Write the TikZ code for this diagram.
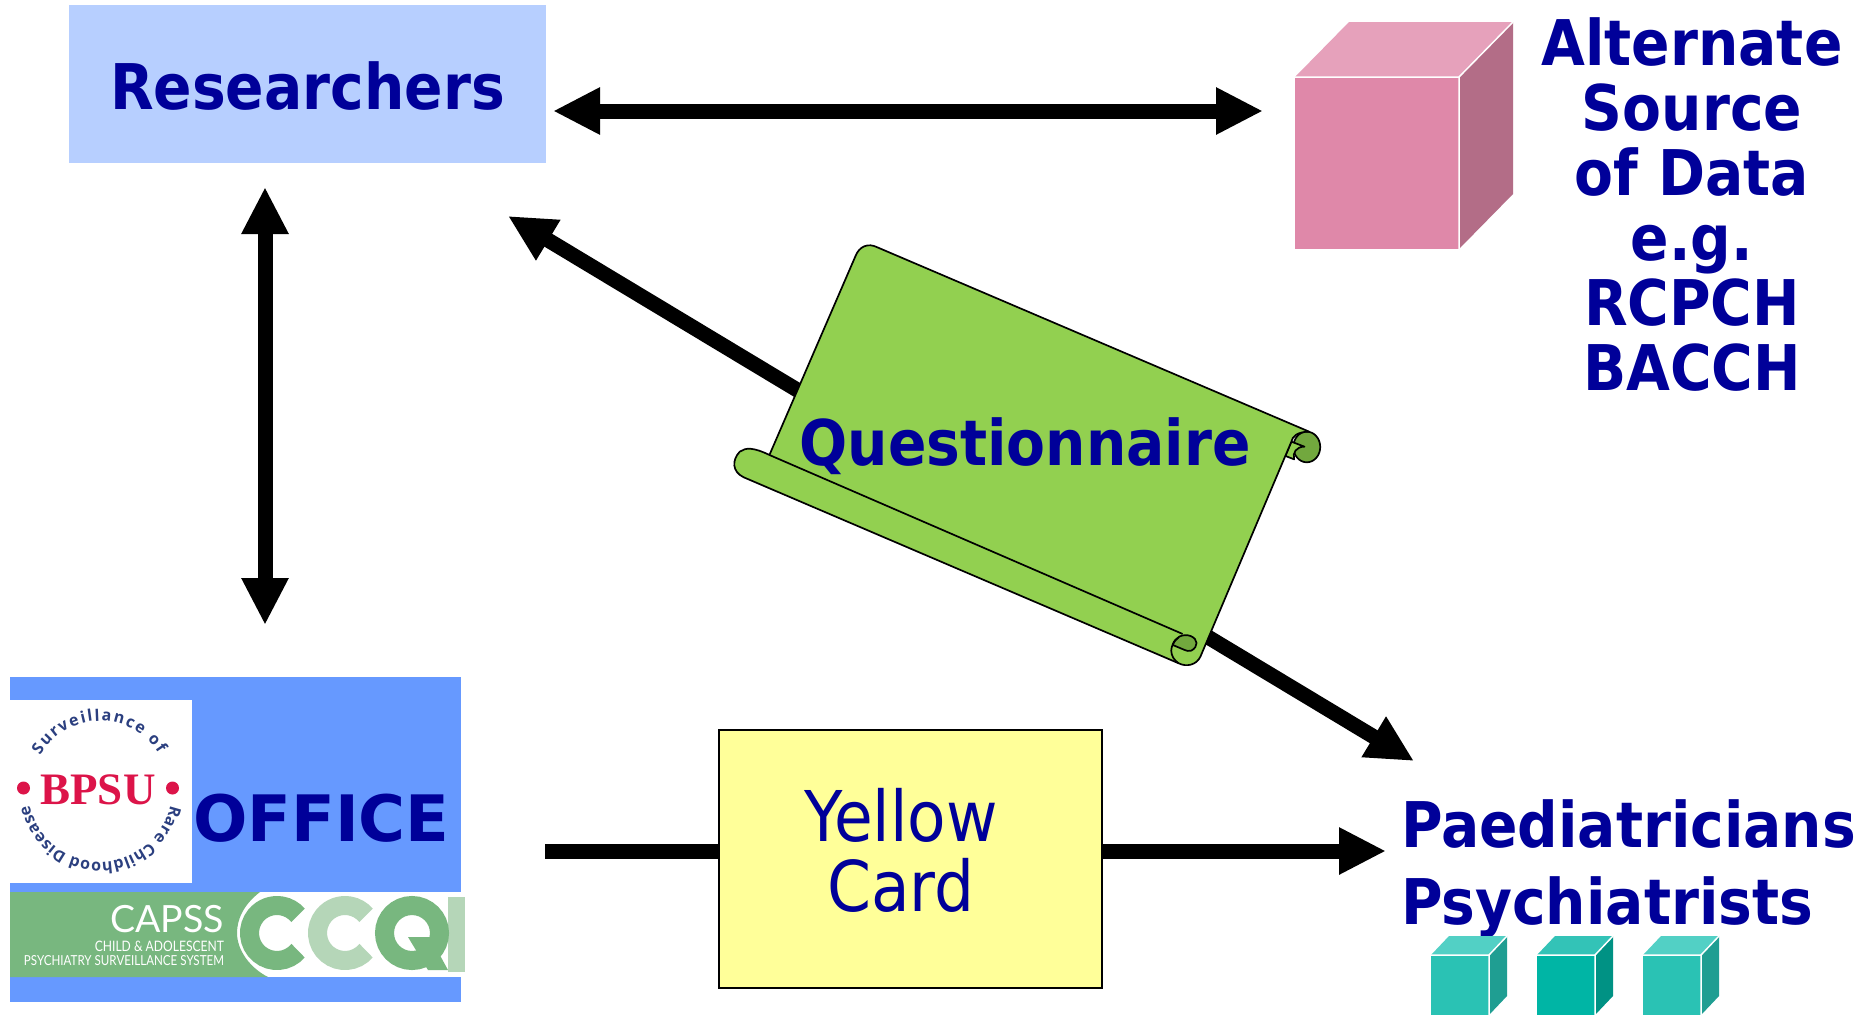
\documentclass[tikz,border=0pt]{standalone}
\usepackage{fontspec}
\usetikzlibrary{arrows.meta,decorations.text}
\setmainfont{DejaVu Sans}
\newfontfamily\tah{DejaVu Sans}[FakeStretch=0.9]
\newfontfamily\officefont{DejaVu Sans}
\newfontfamily\bpsufont{Liberation Serif}
\newfontfamily\ringfont{Open Sans}
\newfontfamily\capssfont{Lato}
\newfontfamily\capssnarrow{Lato}[FakeStretch=0.84]
\definecolor{navy}{HTML}{000099}
\definecolor{resblue}{HTML}{B7CFFF}
\definecolor{offblue}{HTML}{6699FF}
\definecolor{scrollg}{HTML}{92D050}
\definecolor{scrolld}{HTML}{72A83E}
\definecolor{capsg}{HTML}{78B77F}
\definecolor{capsl}{HTML}{B5D6B8}
\definecolor{cardy}{HTML}{FFFF99}
\definecolor{ringblue}{HTML}{2B3F7F}
\definecolor{bpsured}{HTML}{DC1449}
\definecolor{pinkf}{HTML}{DF88A9}
\definecolor{pinkt}{HTML}{E6A1BB}
\definecolor{pinkr}{HTML}{B36D87}
\definecolor{tealaf}{HTML}{2AC2B4}
\definecolor{tealat}{HTML}{52D0C5}
\definecolor{tealar}{HTML}{1F9E92}
\definecolor{tealbf}{HTML}{00B5A5}
\definecolor{tealbt}{HTML}{33C3B7}
\definecolor{tealbr}{HTML}{009284}
\tikzset{
  bigarrow/.style={line width=15pt,draw=black,-{Triangle[length=47pt,width=44pt]}},
  bothways/.style={line width=15pt,draw=black,{Triangle[length=47pt,width=44pt]}-{Triangle[length=47pt,width=44pt]}},
  plainline/.style={line width=15pt,draw=black},
  boxnode/.style={inner sep=0pt,outer sep=0pt,rectangle},
  bigtext/.style={inner sep=0pt,outer sep=0pt,text=navy,font=\tah\bfseries\fontsize{63}{65}\selectfont},
  capstext/.style={inner sep=0pt,outer sep=0pt,text=white,anchor=base east},
  scrollline/.style={draw=black,line width=1.7pt,line join=round},
}
\newcommand{\boxcube}[9]{% x y front top right w h dx dy
  \begin{scope}[shift={(#1,#2)}]
    \fill[#4] (0,0) -- (#8,-#9) -- (#6+#8,-#9) -- (#6,0) -- cycle;
    \fill[#5] (#6,0) -- (#6+#8,-#9) -- (#6+#8,#7-#9) -- (#6,#7) -- cycle;
    \fill[#3] (0,0) rectangle (#6,#7);
    \draw[white,line width=1.5pt] (0,0) -- (#6,0) -- (#6,#7) (#6,0) -- (#6+#8,-#9);
  \end{scope}}
\begin{document}
\begin{tikzpicture}[x=1pt,y=-1pt]
\useasboundingbox (0,0) rectangle (1865,1015);
\fill[white] (0,0) rectangle (1865,1015);

% boxes
\node[boxnode,fill=resblue,minimum width=477pt,minimum height=158pt] (res) at (307.5,84) {};
\node[bigtext,anchor=base] (restxt) at (307.5,109) {Researchers};

\node[boxnode,fill=offblue,minimum width=451pt,minimum height=325pt] (office) at (235.5,839) {};
\node[boxnode,fill=white,minimum width=182pt,minimum height=183pt] (bpsu) at (101,791) {};

% ring logo
\begin{scope}[shift={(100,790)},y=1pt]
  \path[decorate,decoration={text along path,text align={fit to path},
    text={|\ringfont\bfseries\fontsize{16}{16}\selectfont\color{ringblue}|Surveillance of}}]
    (150:69) arc[start angle=150,end angle=32,radius=69];
  \path[decorate,decoration={text along path,text align={fit to path},
    text={|\ringfont\bfseries\fontsize{16}{16}\selectfont\color{ringblue}|Rare Childhood Disease}}]
    (-12:72) arc[start angle=-12,end angle=-168,radius=72];
\end{scope}
\fill[bpsured] (23.5,788) circle (6.5) (172.5,788) circle (6.5);
\node[inner sep=0pt,text=bpsured,anchor=base,font=\bpsufont\bfseries\fontsize{45}{45}\selectfont] (bpsutxt) at (98,804) {BPSU};
\node[inner sep=0pt,text=navy,anchor=base west,font=\officefont\bfseries\fontsize{64}{64}\selectfont] (officetxt) at (193,841) {OFFICE};

% CAPSS / CCQI logos
\fill[white] (10,892) rectangle (461,977);
\fill[capsg] (10,892) -- (260,892) .. controls (243,905) and (237,920) .. (237,933) .. controls (237,950) and (250,968) .. (268,977) -- (10,977) -- cycle;
\node[capstext,font=\capssfont\fontsize{37.5}{37.5}\selectfont] (capss) at (224,932) {CAPSS};
\node[capstext,font=\capssnarrow\fontsize{14.4}{14.4}\selectfont] (capsa) at (224,951) {CHILD \& ADOLESCENT};
\node[capstext,font=\capssnarrow\fontsize{13.8}{13.8}\selectfont] (capsb) at (224,965.5) {PSYCHIATRY SURVEILLANCE SYSTEM};
\fill[capsl] (448,897) rectangle (465,972);
\draw[capsl,line width=19pt] (345,933) ++(40:27.5) arc[start angle=40,end angle=320,radius=27.5];
\draw[capsg,line width=19pt] (277,933) ++(40:27.5) arc[start angle=40,end angle=320,radius=27.5];
\draw[capsg,line width=19pt] (412,933) circle (27.5);
\fill[capsg] (408,937) -- (430,937) -- (448,970) -- (428,970) -- cycle;

% pink cube
\boxcube{1295}{77}{pinkf}{pinkt}{pinkr}{164}{172}{54}{55}
\node[bigtext,anchor=center,align=center] (alt) at (1692,205) {Alternate\\Source\\of Data\\e.g.\\RCPCH\\BACCH};

% connectors
\coordinate (a1) at (553,111); \coordinate (a2) at (1263,111);
\coordinate (b1) at (265,187); \coordinate (b2) at (265,625);
\coordinate (d1) at (508,216); \coordinate (d2) at (1414,761);
\coordinate (y1) at (545,851); \coordinate (y2) at (1386,851);
\draw[bothways] (a1) -- (a2);
\draw[bothways] (b1) -- (b2);
\draw[bothways] (d1) -- (d2);

% yellow card
\node[boxnode,draw=black,line width=2pt,fill=cardy,minimum width=383pt,minimum height=258pt] (card) at (910,859) {};
\node[inner sep=0pt,text=navy,align=center,font=\tah\fontsize{70}{70}\selectfont] (cardtxt) at (901,850) {Yellow\\Card};
\draw[plainline] (y1) -- (card.west |- y1);
\draw[bigarrow] (card.east |- y2) -- (y2);

% scroll (crop coordinates)
\begin{scope}[shift={(720,230)},x=0.3954pt,y=-0.3333pt]
  % top-right curl
  \path[scrollline,fill=scrolld] (1484,651) ellipse [x radius=34,y radius=46];
  \path[scrollline,fill=scrollg] (1445,635) -- (1478,650) .. controls (1458,650) and (1447,668) .. (1452,688) -- (1430,678) -- cycle;
  % sheet
  \path[scrollline,fill=scrollg] (125,675) -- (342,80) .. controls (352,48) and (375,38) .. (398,52)
     -- (1490,605) .. controls (1460,605) and (1447,620) .. (1445,635) -- (1215,1280)
     .. controls (1205,1305) and (1180,1312) .. (1160,1300) -- (60,742)
     .. controls (30,725) and (30,690) .. (50,665) .. controls (65,652) and (85,652) .. (125,675) -- cycle;
  \draw[scrollline] (125,675) -- (1170,1212);
  % bottom-right curl
  \path[scrollline,fill=scrolld] (1145,1245) .. controls (1150,1222) and (1170,1210) .. (1190,1218) .. controls (1210,1228) and (1210,1250) .. (1192,1262) .. controls (1185,1265) and (1180,1262) .. (1175,1260) -- cycle;
  \draw[scrollline] (1160,1222) .. controls (1135,1245) and (1135,1280) .. (1160,1300);
\end{scope}
\node[bigtext,anchor=base] (quest) at (1025,465) {Questionnaire};

% recipients
\node[bigtext,anchor=base west] (paed) at (1401,847) {Paediatricians};
\node[bigtext,anchor=base west] (psy) at (1401,924) {Psychiatrists};
\boxcube{1431}{955}{tealaf}{tealat}{tealar}{58}{60}{18}{19}
\boxcube{1537}{955}{tealbf}{tealbt}{tealbr}{58}{60}{18}{19}
\boxcube{1643}{955}{tealaf}{tealat}{tealar}{58}{60}{18}{19}
\end{tikzpicture}
\end{document}
